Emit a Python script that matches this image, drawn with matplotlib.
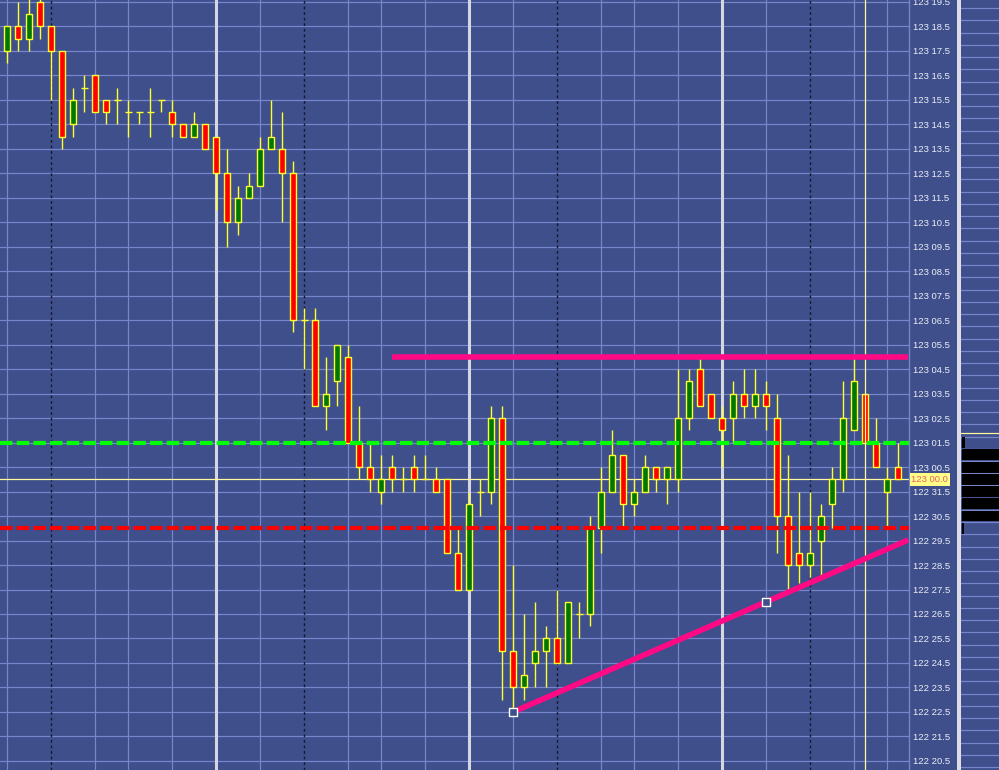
import matplotlib
matplotlib.use("Agg")
import matplotlib.pyplot as plt
from matplotlib.patches import Rectangle
import numpy as np

# ----------------------------
# Data (prices in 32nds above 122 00)
# ----------------------------
opens = [49.5, 50.5, 50.0, 51.5, 50.5, 49.5, 46.5, 48.0, 48.5, 47.5,
         47.5, 47.0, 47.0, 47.0, 47.5, 47.0, 46.5, 46.0, 46.5, 46.0,
         44.5, 42.5, 43.5, 44.0, 45.5, 45.5, 44.5, 38.5, 38.5, 35.0,
         36.0, 37.0, 33.5, 32.5, 31.5, 32.5, 32.0, 32.5, 32.0, 32.0,
         32.0, 29.0, 27.5, 31.5, 31.5, 34.5, 25.0, 23.5, 24.5, 25.0,
         25.5, 24.5, 26.5, 26.5, 30.0, 31.5, 33.0, 31.0, 31.5, 32.5,
         32.0, 32.0, 34.5, 36.5, 35.5, 34.5, 34.5, 35.5, 35.0, 35.5,
         34.5, 30.5, 29.0, 28.5, 29.5, 31.0, 32.0, 34.0, 35.5, 33.5,
         31.5, 32.5]
highs = [50.5, 51.5, 52.0, 52.0, 50.5, 49.5, 48.0, 48.5, 48.5, 47.5,
         48.0, 47.5, 47.0, 48.0, 47.5, 47.5, 46.5, 47.0, 46.5, 46.0,
         45.5, 44.0, 44.5, 46.0, 47.5, 47.0, 45.0, 39.0, 39.0, 37.0,
         37.5, 37.5, 35.0, 33.5, 33.0, 33.0, 32.5, 33.0, 33.0, 32.5,
         32.0, 30.0, 31.5, 32.0, 35.0, 35.0, 28.5, 26.5, 27.0, 26.0,
         27.5, 27.0, 27.0, 30.5, 32.5, 34.0, 33.0, 32.0, 33.0, 32.5,
         32.5, 36.5, 36.5, 37.0, 35.5, 35.0, 36.0, 36.5, 36.5, 36.0,
         35.5, 33.0, 31.5, 31.5, 31.0, 32.5, 36.0, 37.0, 35.5, 34.5,
         32.5, 33.5]
lows = [49.0, 49.5, 49.5, 50.0, 47.5, 45.5, 46.0, 47.0, 47.0, 46.5,
        46.5, 46.0, 46.5, 46.0, 47.0, 46.0, 46.0, 46.0, 45.5, 43.0,
        41.5, 42.0, 43.5, 44.0, 45.5, 42.5, 38.0, 36.5, 35.0, 34.0,
        35.0, 33.5, 32.0, 31.5, 31.0, 31.5, 31.5, 31.5, 32.0, 31.5,
        29.0, 27.5, 27.5, 30.5, 31.0, 23.0, 22.5, 23.0, 23.5, 23.5,
        24.5, 24.5, 25.5, 26.0, 29.0, 31.5, 30.0, 30.5, 31.5, 31.5,
        31.0, 31.5, 34.0, 35.0, 34.5, 32.5, 33.5, 34.5, 34.5, 34.0,
        29.0, 27.5, 27.75, 28.0, 28.0, 30.0, 31.5, 34.0, 33.5, 32.5,
        30.0, 32.0]
closes = [50.5, 50.0, 51.0, 50.5, 49.5, 46.0, 47.5, 48.0, 47.0, 47.0,
          47.5, 47.0, 47.0, 47.0, 47.5, 46.5, 46.0, 46.5, 45.5, 44.5,
          42.5, 43.5, 44.0, 45.5, 46.0, 44.5, 38.5, 38.5, 35.0, 35.5,
          37.5, 33.5, 32.5, 32.0, 32.0, 32.0, 32.0, 32.0, 32.0, 31.5,
          29.0, 27.5, 31.0, 31.5, 34.5, 25.0, 23.5, 24.0, 25.0, 25.5,
          24.5, 27.0, 26.5, 30.0, 31.5, 33.0, 31.0, 31.5, 32.5, 32.0,
          32.5, 34.5, 36.0, 35.0, 34.5, 34.0, 35.5, 35.0, 35.5, 35.0,
          30.5, 28.5, 28.5, 29.0, 30.5, 32.0, 34.5, 36.0, 33.5, 32.5,
          32.0, 32.0]

# reference lines
last_price = 32.0
green_level = 33.5
red_level = 30.0
resistance = 37.0
resistance_start = 35
trend_start = (46, 22.5)
trend_mid = (69, 27.0)

# volume profile on the right
profile_levels = [33.5, 33.0, 32.5, 32.0, 31.5, 31.0, 30.5, 30.0]
profile_sizes = [3, 60, 60, 60, 60, 60, 60, 2]

# vertical separators (bar index)
light_vlines = [0, 8, 11, 15, 23, 31, 34, 38, 46, 54, 57, 61, 69, 77, 80]
dotted_vlines = [4, 27, 50, 73]
white_vlines = [19, 42, 65]
cursor_vline = 78


def fmt_price(p):
    handle = 122 + int(p // 32)
    ticks = p - 32 * (p // 32)
    return f"{handle} {ticks:04.1f}"


# ----------------------------
# Style
# ----------------------------
BG = "#3e4f8b"
GRID = "#7785cb"
W, H = 999, 770
fig = plt.figure(figsize=(W / 100, H / 100), dpi=100, facecolor=BG)

y_top = 51.5 + 2 / 24.48
y_bot = 51.5 - 768 / 24.48
x_left = -7.3 / 11
x_right = (909.3 - 7.3) / 11

ax = fig.add_axes([0, 0, 909.3 / W, 1])
ax.set_facecolor(BG)
ax.set_xlim(x_left, x_right)
ax.set_ylim(y_bot, y_top)
for s in ["top", "bottom", "left"]:
    ax.spines[s].set_visible(False)
ax.spines["right"].set_color(GRID)
ax.spines["right"].set_linewidth(1)
ax.set_xticks([])

grid_levels = np.arange(20.5, 52.0, 1.0)
for lv in grid_levels:
    ax.axhline(lv, color=GRID, lw=0.9, zorder=1)
for v in light_vlines:
    ax.axvline(v, color=GRID, lw=0.9, zorder=1)
for v in white_vlines:
    ax.axvline(v, color="#d4d6e2", lw=2.2, zorder=1)
for v in dotted_vlines:
    ax.axvline(v, color="#141830", lw=1.0, ls=(0, (2, 2)), zorder=1.5)

ax.axhline(last_price, color="#fff9a0", lw=0.9, zorder=2)

# candles
body_w = 0.52
for i in range(len(opens)):
    o, h, l, c = opens[i], highs[i], lows[i], closes[i]
    ax.vlines(i, l, h, color="#ffff30", lw=1.0, zorder=3)
    if o == c:
        ax.hlines(o, i - 0.32, i + 0.32, color="#ffff30", lw=1.0, zorder=4)
    else:
        col = "#007800" if c > o else "#ff0000"
        ax.add_patch(Rectangle((i - body_w / 2, min(o, c)), body_w, abs(c - o),
                               facecolor=col, edgecolor="#ffff30", lw=1.0, zorder=4))

ax.axvline(cursor_vline, color="#fff9a0", lw=0.9, zorder=5)

# level lines
ax.axhline(green_level, color="#00ff00", lw=3.0, ls=(0, (3, 1)), zorder=6)
ax.axhline(red_level, color="#ff0000", lw=3.0, ls=(0, (3, 1)), zorder=6)
ax.hlines(resistance, resistance_start, x_right - 0.1, color="#ff0a84", lw=4.0, zorder=7)

slope = (trend_mid[1] - trend_start[1]) / (trend_mid[0] - trend_start[0])
x_end = x_right - 0.1
ax.plot([trend_start[0], x_end],
        [trend_start[1], trend_start[1] + slope * (x_end - trend_start[0])],
        color="#ff0a84", lw=4.0, solid_capstyle="butt", zorder=7)
ax.scatter([trend_start[0], trend_mid[0]], [trend_start[1], trend_mid[1]],
           marker="s", s=28, facecolor=BG, edgecolor="white", lw=1.0, zorder=8)

# price axis on the right
ax.yaxis.tick_right()
ax.set_yticks(grid_levels)
ax.set_yticklabels([fmt_price(p) for p in grid_levels],
                   fontfamily="Liberation Sans", fontsize=6.8, color="#eceef6")
ax.tick_params(axis="y", length=0, pad=2.6)

ax.annotate(fmt_price(last_price), xy=(1.0, last_price),
            xycoords=("axes fraction", "data"), xytext=(1.5, 0),
            textcoords="offset points", ha="left", va="center",
            fontfamily="Liberation Sans", fontsize=6.8, color="#e8606a",
            bbox=dict(boxstyle="square,pad=0.18", facecolor="#ffff88", edgecolor="none"),
            annotation_clip=False, zorder=10)

# separator band
fig.patches.append(Rectangle((957.3 / W, 0), 4 / W, 1, transform=fig.transFigure,
                             facecolor="#dcdde6", edgecolor="none", zorder=5))

# volume profile panel
ax2 = fig.add_axes([961.3 / W, 0, (W - 961.3) / W, 1])
ax2.set_facecolor(BG)
ax2.set_xlim(0, 37.7)
ax2.set_ylim(y_bot, y_top)
ax2.axis("off")
for lv in np.arange(20.25, 52.0, 0.5):
    ax2.axhline(lv, color=GRID, lw=0.9, zorder=1)
ax2.axhline(33.88, color="#fff9a0", lw=0.9, zorder=1)
ax2.barh(profile_levels, profile_sizes, height=0.44, left=0.8, color="black", zorder=2)

plt.savefig("out.png", dpi=100, facecolor=BG)
plt.close()
